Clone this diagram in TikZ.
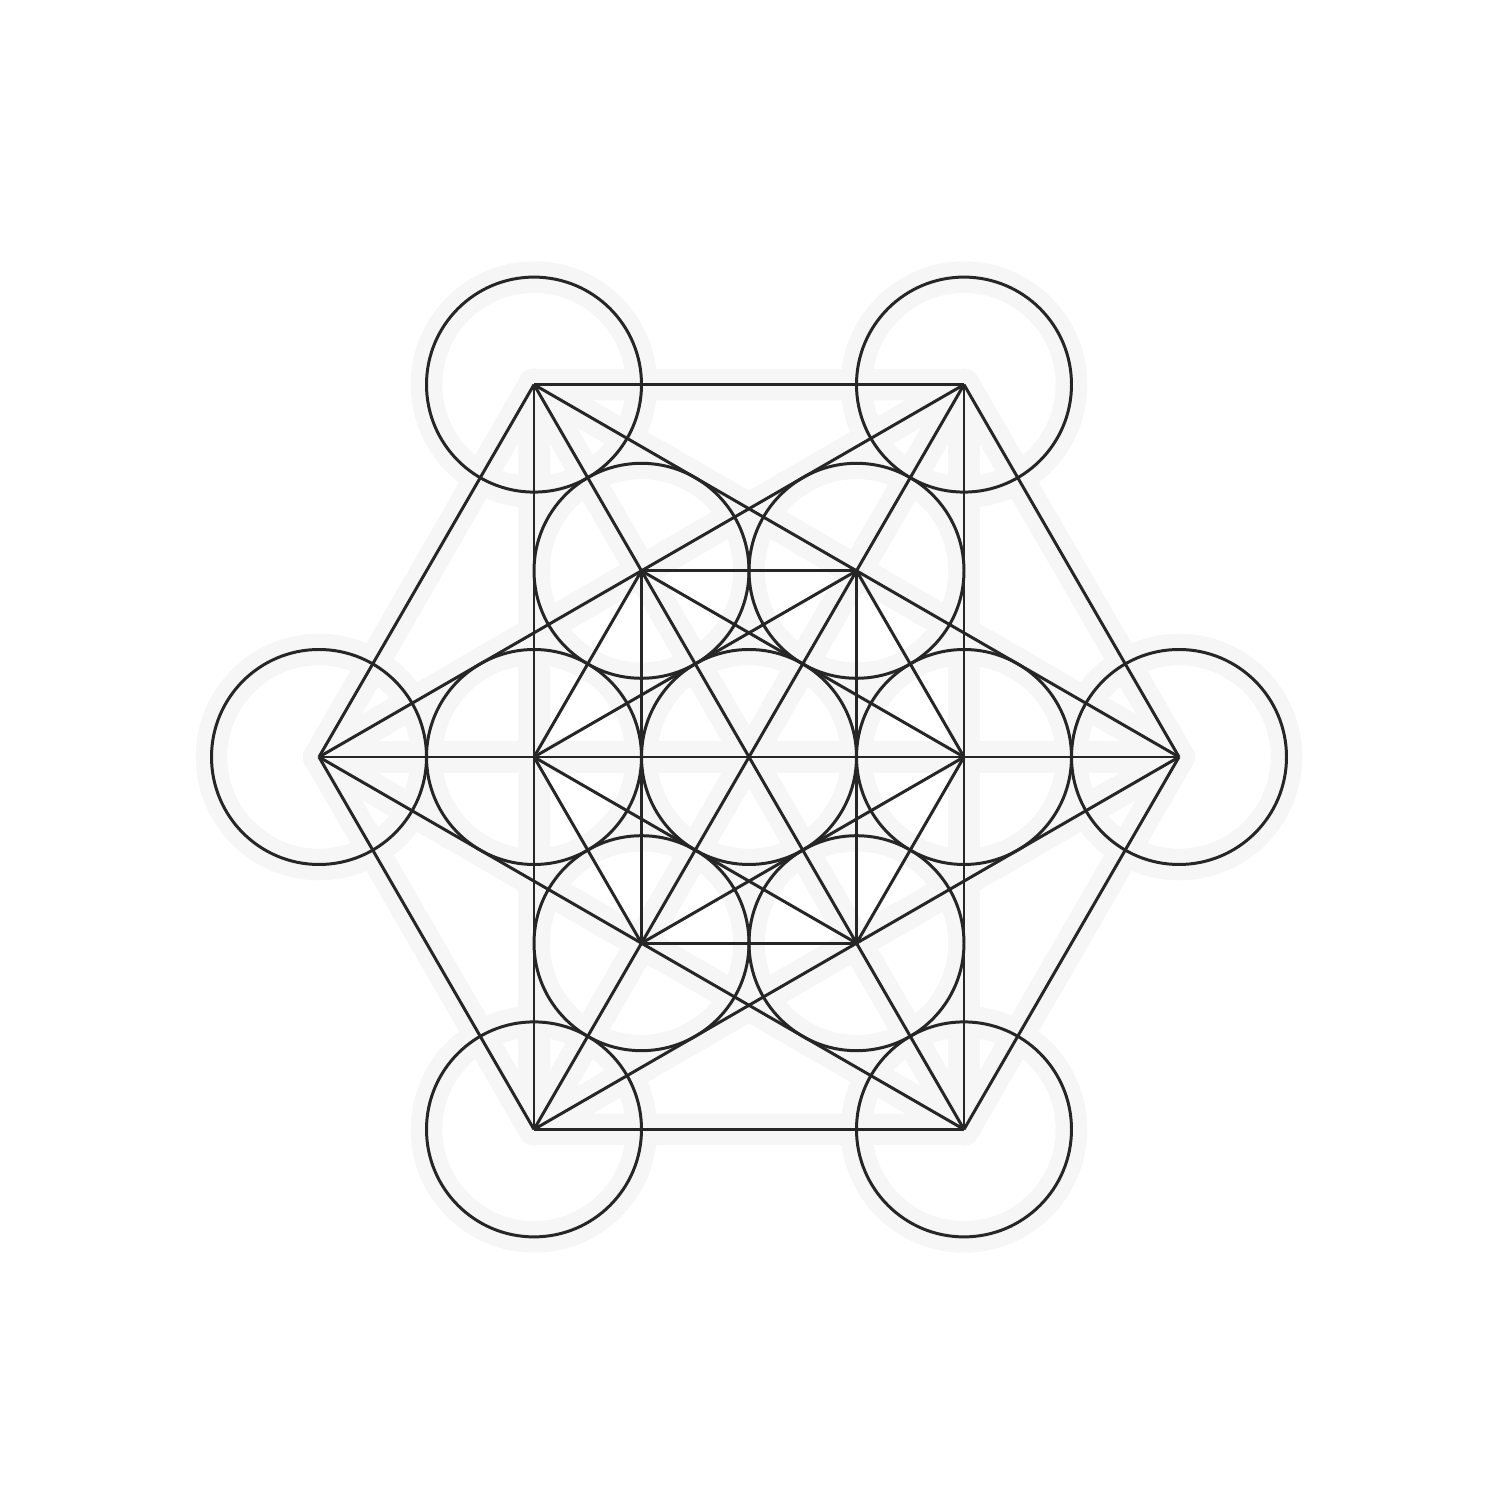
\documentclass[tikz,border=0pt]{standalone}
\usepackage{tikz}

\begin{document}
\begin{tikzpicture}
\tikzset{edge/.style = {-, line width=0.85pt, draw=black!85}}
\tikzset{ring/.style = {shape=circle, draw=black!85, line width=0.85pt, inner sep=0pt, minimum size=2*\radius cm}}
\tikzset{shade/.style = {line width=9pt, draw=black, line cap=round}}
\def \radius {1.075}
\useasboundingbox (0,0) rectangle (15,15);
\begin{scope}[shift={(7.49,7.43)}]
% centres of the 13 circles
\coordinate (c) at (0,0);
\foreach \a in {0,...,5} {
  \coordinate (i\a) at (\a*60:2*\radius);
  \coordinate (o\a) at (\a*60:4*\radius);
}
% soft shadow
\begin{scope}[transparency group, opacity=0.035, shift={(0.03,-0.06)}]
\draw[shade] (c) circle (\radius);
\foreach \a in {0,...,5} {
  \draw[shade] (i\a) circle (\radius);
  \draw[shade] (o\a) circle (\radius);
}
\foreach \a in {0,...,4} {
  \pgfmathtruncatemacro\s{\a+1}
  \foreach \b in {\s,...,5} \draw[shade] (o\a) -- (o\b);
}
\end{scope}
% circles
\node[ring] (k) at (c) {};
\foreach \a in {0,...,5} {
  \node[ring] (ki\a) at (i\a) {};
  \node[ring] (ko\a) at (o\a) {};
}
% outer hexagon, star and long diagonals
\foreach \a in {0,...,4} {
  \pgfmathtruncatemacro\s{\a+1}
  \foreach \b in {\s,...,5} \draw[edge] (o\a) -- (o\b);
}
% inner hexagon and star
\foreach \a in {0,...,5} {
  \pgfmathtruncatemacro\n{mod(\a+1,6)}
  \pgfmathtruncatemacro\m{mod(\a+2,6)}
  \draw[edge] (i\a) -- (i\n);
  \draw[edge] (i\a) -- (i\m);
}
\end{scope}
\end{tikzpicture}
\end{document}
